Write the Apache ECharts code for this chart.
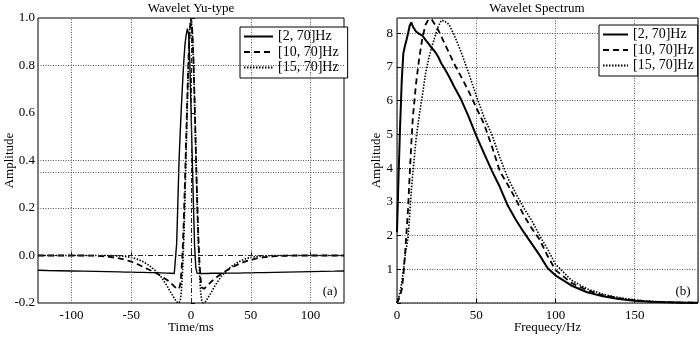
<!DOCTYPE html>
<html>
<head>
<meta charset="utf-8">
<script src="https://cdn.jsdelivr.net/npm/echarts@6/dist/echarts.min.js"></script>
<style>
  html, body { margin: 0; padding: 0; background: #fff; }
  #main { width: 700px; height: 337px; }
</style>
</head>
<body>
<div id="main"></div>
<script>
// series names
const names = ['[2, 70]Hz', '[10, 70]Hz', '[15, 70]Hz'];

// (a) wavelet, time axis in ms
const time = [-128, -120, -110, -100, -90, -80, -70, -60, -55, -50,
  -45, -40, -35, -30, -25, -20, -17, -14, -13, -12,
  -11, -10, -9, -8, -7, -6, -5, -4, -3, -2,
  -1, 0, 1, 2, 3, 4, 5, 6, 7, 8,
  9, 10, 11, 12, 14, 17, 20, 25, 30, 35,
  40, 45, 50, 55, 60, 70, 80, 90, 100, 110,
  120, 128];

const wave2 = [-0.062, -0.063, -0.064, -0.065, -0.066, -0.067, -0.068, -0.069, -0.070, -0.070,
  -0.071, -0.071, -0.072, -0.072, -0.073, -0.074, -0.075, -0.076, -0.075, 0.05,
  0.22, 0.40, 0.52, 0.63, 0.73, 0.82, 0.89, 0.93, 0.955, 0.93,
  0.82, 0.62, 0.42, 0.22, 0.04, -0.05, -0.074, -0.076, -0.076, -0.076,
  -0.076, -0.076, -0.076, -0.076, -0.076, -0.075, -0.075, -0.075, -0.074, -0.074,
  -0.074, -0.073, -0.073, -0.072, -0.072, -0.071, -0.070, -0.069, -0.068, -0.067,
  -0.066, -0.065];

const wave10 = [0, 0, 0, 0, 0, -0.001, -0.004, -0.012, -0.018, -0.026,
  -0.036, -0.048, -0.06, -0.072, -0.087, -0.103, -0.115, -0.13, -0.135, -0.14,
  -0.143, -0.14, -0.12, -0.07, 0.02, 0.15, 0.32, 0.5, 0.68, 0.84,
  0.95, 1.0, 0.95, 0.83, 0.65, 0.45, 0.26, 0.1, -0.02, -0.1,
  -0.135, -0.143, -0.14, -0.135, -0.125, -0.11, -0.097, -0.078, -0.062, -0.048,
  -0.036, -0.026, -0.018, -0.012, -0.008, -0.003, -0.001, 0, 0, 0,
  0, 0];

const wave15 = [0, 0, 0, 0, 0, 0, 0, -0.002, -0.004, -0.008,
  -0.015, -0.026, -0.042, -0.063, -0.09, -0.128, -0.155, -0.18, -0.188, -0.195,
  -0.2, -0.2, -0.19, -0.15, -0.06, 0.07, 0.25, 0.45, 0.65, 0.83,
  0.95, 1.0, 0.95, 0.83, 0.65, 0.45, 0.25, 0.07, -0.06, -0.15,
  -0.19, -0.2, -0.2, -0.195, -0.18, -0.155, -0.128, -0.09, -0.063, -0.042,
  -0.026, -0.015, -0.008, -0.004, -0.002, 0, 0, 0, 0, 0,
  0, 0];

// (b) spectrum, frequency in Hz
const freq = [0, 1, 2, 3, 4, 5, 6, 7, 8, 9,
  10, 12, 14, 16, 18, 20, 22, 24, 26, 28,
  30, 33, 36, 40, 45, 50, 55, 60, 65, 70,
  75, 80, 85, 90, 95, 100, 110, 120, 130, 140,
  150, 160, 170, 180, 190];

const spec2 = [2.1, 3.8, 5.3, 6.6, 7.4, 7.62, 7.8, 8.0, 8.22, 8.32,
  8.2, 8.05, 7.98, 7.93, 7.8, 7.68, 7.56, 7.45, 7.3, 7.1,
  6.95, 6.7, 6.42, 6.08, 5.55, 4.96, 4.43, 3.91, 3.43, 2.88,
  2.47, 2.1, 1.76, 1.42, 1.04, 0.82, 0.52, 0.32, 0.2, 0.12,
  0.07, 0.04, 0.02, 0.01, 0.005];

const spec10 = [0, 0.1, 0.22, 0.4, 0.8, 1.4, 2.1, 2.8, 3.8, 4.7,
  5.5, 6.5, 7.25, 7.85, 8.25, 8.42, 8.4, 8.25, 8.1, 7.9,
  7.7, 7.4, 7.1, 6.75, 6.3, 5.8, 5.3, 4.63, 3.9, 3.5,
  3.08, 2.6, 2.22, 1.88, 1.4, 0.98, 0.6, 0.38, 0.23, 0.14,
  0.08, 0.045, 0.025, 0.012, 0.006];

const spec15 = [0, 0.15, 0.35, 0.6, 0.95, 1.37, 1.65, 1.95, 2.6, 3.3,
  3.85, 4.85, 5.55, 6.15, 6.8, 7.25, 7.6, 7.9, 8.2, 8.38,
  8.36, 8.25, 7.95, 7.5, 6.85, 6.15, 5.5, 4.98, 4.3, 3.7,
  3.25, 2.82, 2.45, 2.0, 1.6, 1.15, 0.68, 0.42, 0.26, 0.16,
  0.09, 0.05, 0.028, 0.014, 0.007];

// tick labels / grid lines
const timeTicks = [-100, -50, 0, 50, 100];
const waveGridY = [0.8, 0.4, 0.35, 0.2];

const FONT = 'Liberation Serif, Times New Roman, serif';
const lineStyles = [
  {color: '#000', width: 1.8, type: 'solid'},
  {color: '#000', width: 1.8, type: [6, 4]},
  {color: '#000', width: 1.6, type: [1.5, 1.5]}
];

function zip(xs, ys) {
  return xs.map((x, i) => [x, ys[i]]);
}

const chart = echarts.init(document.getElementById('main'));

const gridLineStyle = {color: '#555', type: [1, 1.5], width: 1};
const dashDot = {color: '#222', type: [5, 2, 1, 2], width: 1};

const waveGridData = timeTicks.filter(v => v !== 0).map(v => ({xAxis: v}))
  .concat(waveGridY.map(v => ({yAxis: v})))
  .concat([{xAxis: 0, lineStyle: dashDot}, {yAxis: 0, lineStyle: dashDot}]);

const axisLabelStyle = {fontFamily: FONT, fontSize: 13, color: '#000'};

const legendBase = {
  data: names, orient: 'vertical',
  itemHeight: 10, itemGap: 0.5,
  borderColor: '#000', borderWidth: 1, backgroundColor: '#fff',
  itemStyle: {color: 'rgba(0,0,0,0)', borderWidth: 0, opacity: 0},
  textStyle: {fontFamily: FONT, fontSize: 14, lineHeight: 15, color: '#000'}
};

chart.setOption({
  animation: false,
  backgroundColor: '#fff',
  textStyle: {fontFamily: FONT},
  grid: [
    {left: 38, top: 18, width: 306, height: 285, show: true, borderColor: '#000', borderWidth: 1, outerBoundsMode: 'none', containLabel: false},
    {left: 397, top: 18, width: 301, height: 285, show: true, borderColor: '#000', borderWidth: 1, outerBoundsMode: 'none', containLabel: false}
  ],
  xAxis: [
    {
      type: 'value', gridIndex: 0, min: -128, max: 128,
      axisLine: {show: false},
      axisTick: {show: true, inside: true, length: 4, lineStyle: {color: '#000'}, customValues: timeTicks},
      axisLabel: Object.assign({margin: 6, customValues: timeTicks}, axisLabelStyle),
      splitLine: {show: false},
      name: 'Time/ms', nameLocation: 'middle', nameGap: 18, nameMoveOverlap: false,
      nameTextStyle: axisLabelStyle
    },
    {
      type: 'value', gridIndex: 1, min: 0, max: 190, interval: 50,
      axisLine: {show: false},
      axisTick: {show: true, inside: true, length: 4, lineStyle: {color: '#000'}},
      axisLabel: Object.assign({margin: 6, showMaxLabel: false}, axisLabelStyle),
      splitLine: {show: true, lineStyle: gridLineStyle},
      name: 'Frequecy/Hz', nameLocation: 'middle', nameGap: 18, nameMoveOverlap: false,
      nameTextStyle: axisLabelStyle
    }
  ],
  yAxis: [
    {
      type: 'value', gridIndex: 0, min: -0.2, max: 1.0, interval: 0.2,
      axisLine: {show: false},
      axisTick: {show: true, inside: true, length: 4, lineStyle: {color: '#000'}},
      axisLabel: Object.assign({margin: 3, formatter: v => v.toFixed(1)}, axisLabelStyle),
      splitLine: {show: false},
      name: 'Amplitude', nameLocation: 'middle', nameGap: 22, nameMoveOverlap: false,
      nameTextStyle: axisLabelStyle
    },
    {
      type: 'value', gridIndex: 1, min: 0, max: 8.45, interval: 1,
      axisLine: {show: false},
      axisTick: {show: true, inside: true, length: 4, lineStyle: {color: '#000'}},
      axisLabel: Object.assign({margin: 4, showMaxLabel: false, formatter: v => (v === 0 ? '' : String(v))}, axisLabelStyle),
      splitLine: {show: true, lineStyle: gridLineStyle},
      name: 'Amplitude', nameLocation: 'middle', nameGap: 14, nameMoveOverlap: false,
      nameTextStyle: axisLabelStyle
    }
  ],
  legend: [
    Object.assign({left: 240, top: 27, itemWidth: 29, padding: [2, 9, 3, 3]}, legendBase),
    Object.assign({left: 599, top: 25, itemWidth: 25, padding: [2, 4, 3, 3]}, legendBase)
  ],
  graphic: [
    {type: 'text', x: 191, y: 2, style: {text: 'Wavelet Yu-type', font: '13px ' + FONT, fill: '#000', textAlign: 'center'}},
    {type: 'text', x: 537, y: 2, style: {text: 'Wavelet Spectrum', font: '13px ' + FONT, fill: '#000', textAlign: 'center'}},
    {type: 'text', x: 330, y: 285, style: {text: '(a)', font: '13px ' + FONT, fill: '#000', textAlign: 'center'}},
    {type: 'text', x: 683, y: 285, style: {text: '(b)', font: '13px ' + FONT, fill: '#000', textAlign: 'center'}}
  ],
  series: [
    {
      type: 'line', xAxisIndex: 0, yAxisIndex: 0, data: [], z: 1,
      markLine: {silent: true, symbol: 'none', label: {show: false}, lineStyle: gridLineStyle, data: waveGridData}
    },
    {name: names[0], type: 'line', xAxisIndex: 0, yAxisIndex: 0, showSymbol: false, symbol: 'none', z: 3, lineStyle: {...lineStyles[0], width: 1.4}, itemStyle: {color: '#000'}, data: zip(time, wave2)},
    {name: names[1], type: 'line', xAxisIndex: 0, yAxisIndex: 0, showSymbol: false, symbol: 'none', z: 3, lineStyle: lineStyles[1], itemStyle: {color: '#000'}, data: zip(time, wave10)},
    {name: names[2], type: 'line', xAxisIndex: 0, yAxisIndex: 0, showSymbol: false, symbol: 'none', z: 3, lineStyle: lineStyles[2], itemStyle: {color: '#000'}, data: zip(time, wave15)},
    {name: names[0], type: 'line', xAxisIndex: 1, yAxisIndex: 1, showSymbol: false, symbol: 'none', z: 3, lineStyle: {...lineStyles[0], width: 2}, itemStyle: {color: '#000'}, data: zip(freq, spec2)},
    {name: names[1], type: 'line', xAxisIndex: 1, yAxisIndex: 1, showSymbol: false, symbol: 'none', z: 3, lineStyle: lineStyles[1], itemStyle: {color: '#000'}, data: zip(freq, spec10)},
    {name: names[2], type: 'line', xAxisIndex: 1, yAxisIndex: 1, showSymbol: false, symbol: 'none', z: 3, lineStyle: lineStyles[2], itemStyle: {color: '#000'}, data: zip(freq, spec15)}
  ]
});
</script>
</body>
</html>
